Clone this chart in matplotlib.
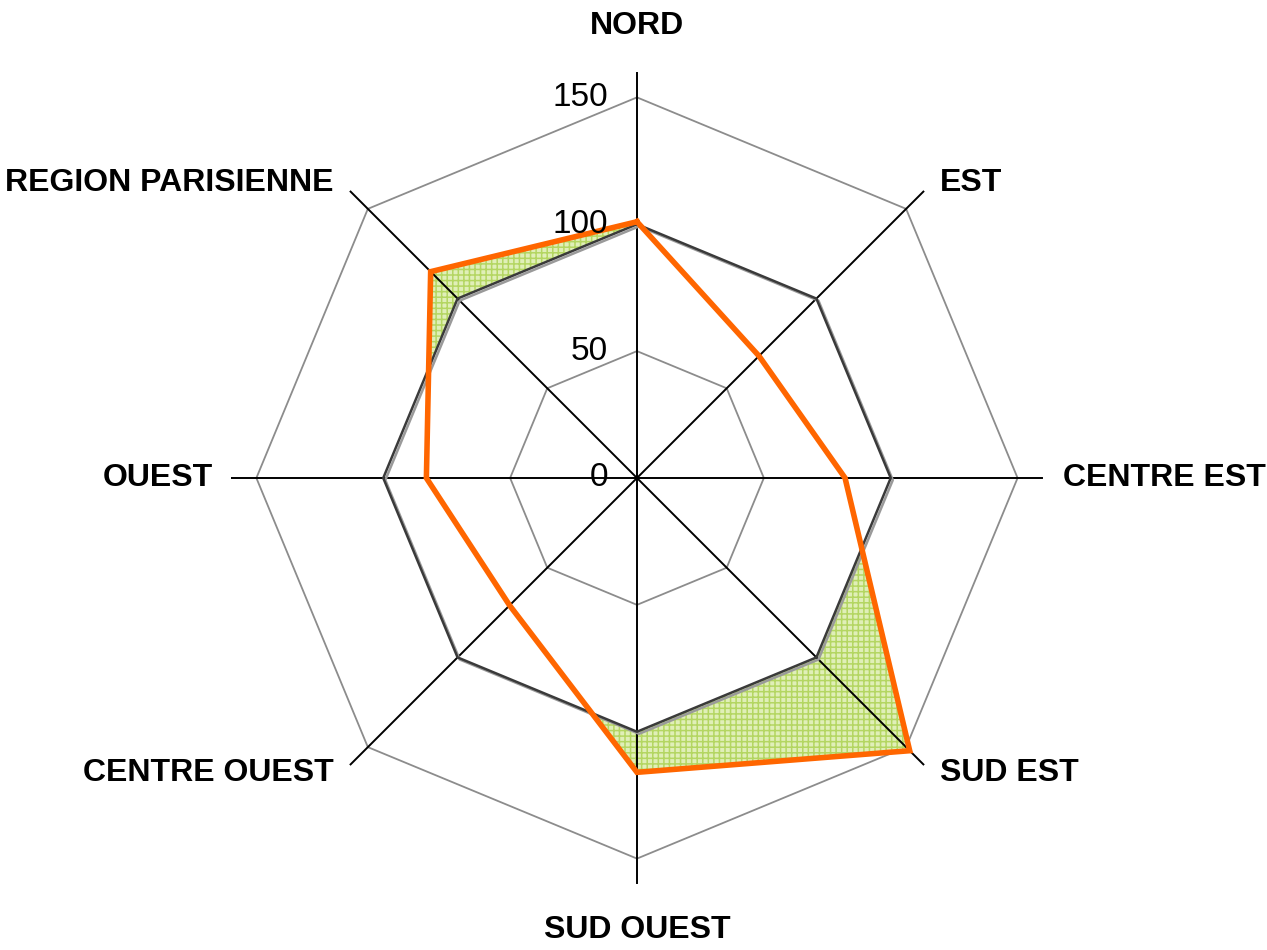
import matplotlib
matplotlib.use("Agg")
import matplotlib.pyplot as plt
import matplotlib.patheffects as pe
import numpy as np

# Données du radar
regions = ["NORD", "EST", "CENTRE EST", "SUD EST", "SUD OUEST",
           "CENTRE OUEST", "OUEST", "REGION PARISIENNE"]
reference = [100, 100, 100, 100, 100, 100, 100, 100]
indice = [101, 68, 82, 152, 116, 71, 83, 115]
anneaux = [50, 100, 150]
etiquettes_r = ["0", "50", "100", "150"]
r_max = 160

n = len(regions)
angles = np.linspace(0, 2 * np.pi, n, endpoint=False)
ang_f = np.append(angles, angles[0])

def ferme(v):
    return np.append(v, v[0])

fig = plt.figure(figsize=(12.67, 9.5), dpi=100)
ax = fig.add_axes([0.1823, 0.0695, 0.6409, 0.8547], projection="polar")
ax.set_theta_offset(np.pi / 2)
ax.set_theta_direction(-1)
ax.set_ylim(0, r_max)
ax.grid(False)
ax.spines["polar"].set_visible(False)
ax.set_xticks([])
ax.set_yticks([])
ax.patch.set_visible(False)

# anneau 150 sous le remplissage
ax.plot(ang_f, [anneaux[2]] * (n + 1), color="#8c8c8c", lw=1.3, zorder=1)

# remplissage vert de l'indice, puis blanc pour la référence
plt.rcParams["hatch.linewidth"] = 1.1
ax.fill(ang_f, ferme(indice), facecolor="#e0efb8", edgecolor="#b4d662",
        hatch="+++", lw=0, zorder=2)
ax.fill(ang_f, ferme(reference), facecolor="white", edgecolor="none", zorder=3)

# anneau 50 et rayons
ax.plot(ang_f, [anneaux[0]] * (n + 1), color="#8c8c8c", lw=1.3, zorder=4)
for a in angles:
    ax.plot([a, a], [0, r_max], color="black", lw=1.4, zorder=5)

# série de référence (avec ombre)
ax.plot(ang_f, ferme(reference), color="#3a3a3a", lw=1.8, zorder=6,
        path_effects=[pe.SimpleLineShadow(offset=(1.5, -1.5), shadow_color="#9a9a9a", alpha=1),
                      pe.Normal()])
# série indice
ax.plot(ang_f, ferme(indice), color="#ff6600", lw=4, zorder=7,
        solid_joinstyle="miter")

# valeurs de l'axe
for val, txt in zip([0] + anneaux, etiquettes_r):
    ax.annotate(txt, (0, val), xytext=(-29, 0), textcoords="offset pixels",
                ha="right", va="center",
                fontsize=24, family=["Liberation Sans", "DejaVu Sans"], zorder=8)

# étiquettes des régions
decalages = [(0, 46, "center"), (16, 8, "left"), (20, 0, "left"), (16, -8, "left"),
             (0, -46, "center"), (-16, -8, "right"), (-18, 0, "right"), (-16, 8, "right")]
for a, nom, (dx, dy, ha) in zip(angles, regions, decalages):
    ax.annotate(nom, (a, r_max), xytext=(dx, dy), textcoords="offset pixels",
                ha=ha, va="center", fontsize=23, fontweight="bold",
                family=["Liberation Sans", "DejaVu Sans"],
                annotation_clip=False)

fig.savefig("out.png", dpi=100, facecolor="white")
